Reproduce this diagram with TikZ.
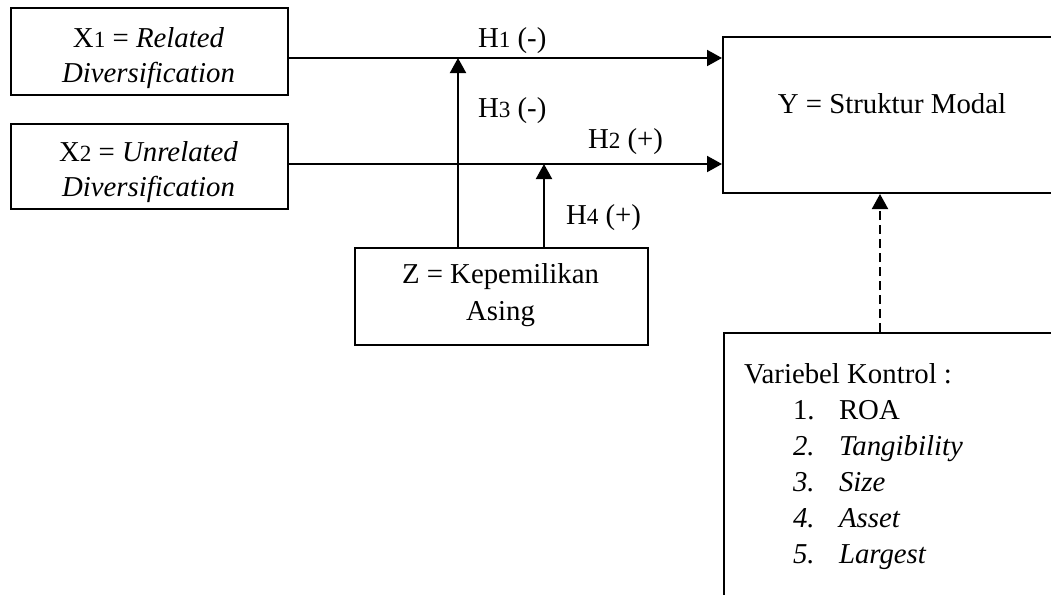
\documentclass[tikz,border=0pt]{standalone}
\usepackage{fontspec}
\setmainfont{Liberation Serif}
\usetikzlibrary{arrows.meta}

% smaller digit used in variable and hypothesis names
\newcommand{\dg}[1]{{\fontsize{11.6pt}{14pt}\selectfont #1}}

\begin{document}
\begin{tikzpicture}[x=0.5pt,y=-0.5pt,
  line width=1pt,
  box/.style={draw, line width=1pt, inner sep=0pt, anchor=north west},
  txt/.style={inner sep=0pt, font=\fontsize{14.4pt}{17pt}\selectfont},
  arr/.style={-{Triangle[length=7.5pt,width=8pt]}, line width=1pt},
  darr/.style={arr, dash pattern=on 4.5pt off 2.5pt}
]
\useasboundingbox (0,0) rectangle (1051,595);
\clip (0,0) rectangle (1051,595);

% boxes
\node[box, minimum width=138.5pt, minimum height=43.5pt] (x1box) at (10,7) {};
\node[box, minimum width=138.5pt, minimum height=42.5pt] (x2box) at (10,123) {};
\node[box, minimum width=170pt, minimum height=78pt] (ybox) at (722,36) {};
\node[box, minimum width=146.5pt, minimum height=48.5pt] (zbox) at (354,247) {};
\node[box, minimum width=170pt, minimum height=140pt] (cbox) at (723,332) {};

% box texts
\node[txt, anchor=base] (x1a) at (148.5,47) {X\dg{1} = \textit{Related}};
\node[txt, anchor=base] (x1b) at (148.5,82) {\textit{Diversification}};
\node[txt, anchor=base] (x2a) at (148.5,161) {X\dg{2} = \textit{Unrelated}};
\node[txt, anchor=base] (x2b) at (148.5,196) {\textit{Diversification}};
\node[txt, anchor=base] (yt) at (892,113) {Y = Struktur Modal};
\node[txt, anchor=base] (za) at (500.5,283) {Z = Kepemilikan};
\node[txt, anchor=base] (zb) at (500.5,320) {Asing};

% control variables
\node[txt, anchor=base west] (ch) at (743,383) {Variebel Kontrol :};
\node[txt, anchor=base west] (n1) at (792,419) {1.};
\node[txt, anchor=base west] (t1) at (838,419) {ROA};
\node[txt, anchor=base west] (n2) at (792,455) {\textit{2.}};
\node[txt, anchor=base west] (t2) at (838,455) {\textit{Tangibility}};
\node[txt, anchor=base west] (n3) at (792,491) {\textit{3.}};
\node[txt, anchor=base west] (t3) at (838,491) {\textit{Size}};
\node[txt, anchor=base west] (n4) at (792,527) {\textit{4.}};
\node[txt, anchor=base west] (t4) at (838,527) {\textit{Asset}};
\node[txt, anchor=base west] (n5) at (792,563) {\textit{5.}};
\node[txt, anchor=base west] (t5) at (838,563) {\textit{Largest}};

% hypothesis labels
\node[txt, anchor=base west] (h1) at (477,47) {H\dg{1} (-)};
\node[txt, anchor=base west] (h3) at (477,117) {H\dg{3} (-)};
\node[txt, anchor=base west] (h2) at (587,148) {H\dg{2} (+)};
\node[txt, anchor=base west] (h4) at (565,224) {H\dg{4} (+)};

% connector anchors
\coordinate (s1) at ([yshift=-3.25pt]x1box.east);
\coordinate (s2) at ([yshift=1.25pt]x2box.east);
\coordinate (m1) at ([xshift=52pt]zbox.north west);
\coordinate (m2) at ([xshift=95pt]zbox.north west);
\coordinate (c1) at ([xshift=78.5pt]cbox.north west);

% direct effects
\draw[arr] (s1) -- (ybox.west |- s1);
\draw[arr] (s2) -- (ybox.west |- s2);

% moderating effects
\draw[arr] (m1) -- (m1 |- s1);
\draw[arr] (m2) -- (m2 |- s2);

% control variables
\draw[darr] (c1) -- (c1 |- ybox.south);
\end{tikzpicture}
\end{document}
